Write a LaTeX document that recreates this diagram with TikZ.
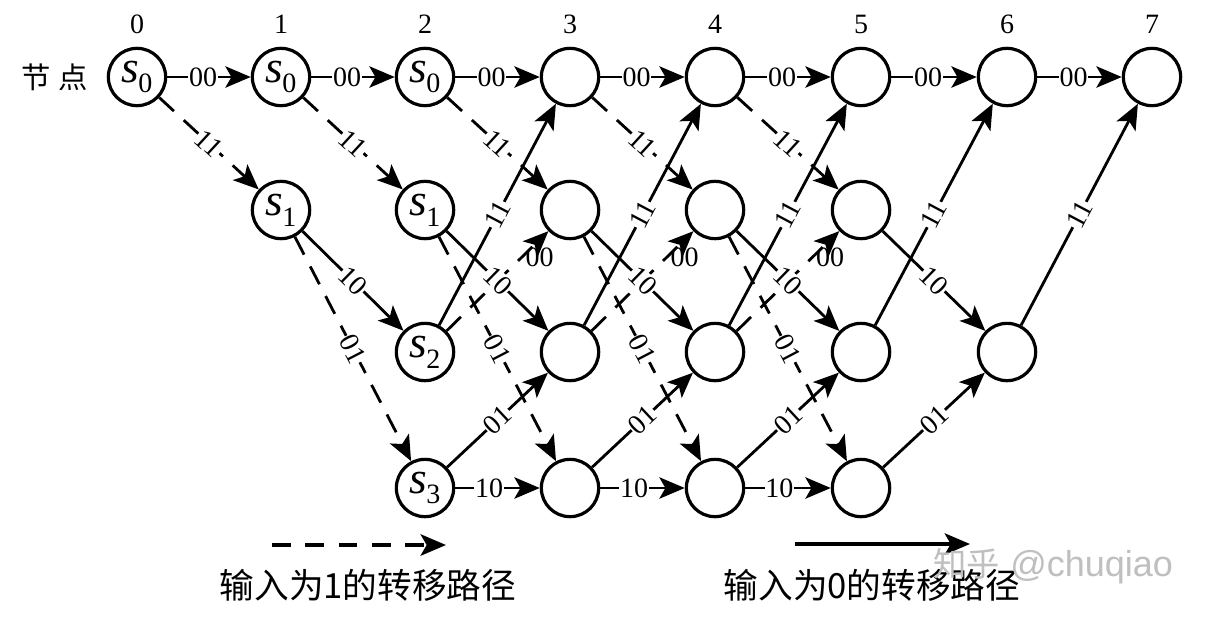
\documentclass[tikz,border=0pt]{standalone}
\usepackage{fontspec}
\setmainfont{Liberation Serif}
\newfontfamily\cjk{Noto Sans CJK SC}
\newfontfamily\wmfont{Liberation Sans}
\usetikzlibrary{arrows.meta}
\newcommand{\sn}[1]{{\fontsize{34}{34}\selectfont\itshape s}\kern-0.5pt\raisebox{-8pt}{\fontsize{21}{21}\selectfont #1}}
\begin{document}
\begin{tikzpicture}[x=0.75pt,y=-0.75pt,
  st/.style={circle, draw, line width=2.4pt, minimum size=43pt, inner sep=0pt},
  zero/.style={-{Stealth[length=19pt,width=16pt,inset=4.5pt]}, line width=2.1pt},
  one/.style={zero, dash pattern=on 15pt off 10pt},
  lab/.style={fill=white, inner sep=0.6pt, sloped, font=\fontsize{21}{21}\selectfont},
  labside/.style={anchor=west, pos=0.74, xshift=2pt, inner sep=0.5pt, font=\fontsize{21}{21}\selectfont},
  num/.style={font=\fontsize{21}{21}\selectfont},
  leg/.style={font=\cjk\fontsize{26}{26}\selectfont}]
\fill[white] (0,0) rectangle (1209,618);
\useasboundingbox (0,0) rectangle (1209,618);

% column numbers
\foreach \c/\x in {0/137,1/281,2/425,3/570,4/715,5/861,6/1007,7/1152}
  \node[num] (h\c) at (\x,24) {\c};
\node[font=\cjk\fontsize{22}{22}\selectfont] (lbl) at (55,77) {节\hspace{6pt}点};

% states
\foreach \c/\x/\t in {0/137/{\sn{0}},1/281/{\sn{0}},2/425/{\sn{0}},3/570/{},4/715/{},5/861/{},6/1007/{},7/1152/{}}
  \node[st] (n\c-0) at (\x,77) {\t};
\foreach \c/\x/\t in {1/281/{\sn{1}},2/425/{\sn{1}},3/570/{},4/715/{},5/861/{}}
  \node[st] (n\c-1) at (\x,210) {\t};
\foreach \c/\x/\t in {2/425/{\sn{2}},3/570/{},4/715/{},5/861/{},6/1007/{}}
  \node[st] (n\c-2) at (\x,352) {\t};
\foreach \c/\x/\t in {2/425/{\sn{3}},3/570/{},4/715/{},5/861/{}}
  \node[st] (n\c-3) at (\x,488) {\t};

% transitions (lines)
\foreach \c in {0,...,6}{\pgfmathtruncatemacro\d{\c+1}
  \draw[zero] (n\c-0) -- (n\d-0);}
\foreach \c in {0,...,4}{\pgfmathtruncatemacro\d{\c+1}
  \draw[one] (n\c-0) -- (n\d-1);}
\foreach \c in {1,...,5}{\pgfmathtruncatemacro\d{\c+1}
  \draw[zero] (n\c-1) -- (n\d-2);}
\foreach \c in {1,...,4}{\pgfmathtruncatemacro\d{\c+1}
  \draw[one] (n\c-1) -- (n\d-3);}
\foreach \c in {2,...,6}{\pgfmathtruncatemacro\d{\c+1}
  \draw[zero] (n\c-2) -- (n\d-0);}
\foreach \c in {2,...,4}{\pgfmathtruncatemacro\d{\c+1}
  \draw[one] (n\c-2) -- (n\d-1);}
\foreach \c in {2,...,5}{\pgfmathtruncatemacro\d{\c+1}
  \draw[zero] (n\c-3) -- (n\d-2);}
\foreach \c in {2,...,4}{\pgfmathtruncatemacro\d{\c+1}
  \draw[zero] (n\c-3) -- (n\d-3);}

% transitions (labels, on top)
\foreach \c in {0,...,6}{\pgfmathtruncatemacro\d{\c+1}
  \path (n\c-0) -- node[lab,pos=0.43]{00} (n\d-0);}
\foreach \c in {0,...,4}{\pgfmathtruncatemacro\d{\c+1}
  \path (n\c-0) -- node[lab]{11} (n\d-1);}
\foreach \c in {1,...,5}{\pgfmathtruncatemacro\d{\c+1}
  \path (n\c-1) -- node[lab]{10} (n\d-2);}
\foreach \c in {1,...,4}{\pgfmathtruncatemacro\d{\c+1}
  \path (n\c-1) -- node[lab]{01} (n\d-3);}
\foreach \c in {2,...,6}{\pgfmathtruncatemacro\d{\c+1}
  \path (n\c-2) -- node[lab]{11} (n\d-0);}
\foreach \c in {2,...,4}{\pgfmathtruncatemacro\d{\c+1}
  \path (n\c-2) -- node[labside]{00} (n\d-1);}
\foreach \c in {2,...,5}{\pgfmathtruncatemacro\d{\c+1}
  \path (n\c-3) -- node[lab]{01} (n\d-2);}
\foreach \c in {2,...,4}{\pgfmathtruncatemacro\d{\c+1}
  \path (n\c-3) -- node[lab,pos=0.4]{10} (n\d-3);}

% legend
\coordinate (d1) at (272,545);
\coordinate (d2) at (446,545);
\draw[one, line width=3pt, dash pattern=on 14pt off 11pt] (d1) -- (d2);
\coordinate (z1) at (795,544);
\coordinate (z2) at (970,544);
\draw[zero, line width=2.4pt] (z1) -- (z2);
\node[leg] (t1) at (368,585) {输入为1的转移路径};
\node[leg] (t0) at (872,585) {输入为0的转移路径};

% watermark
\node[text=black!25, inner sep=0pt] (wm) at (1053,566)
  {{\cjk\fontsize{25}{25}\selectfont 知乎}\hspace{8pt}{\wmfont\fontsize{27}{27}\selectfont @chuqiao}};
\end{tikzpicture}
\end{document}
